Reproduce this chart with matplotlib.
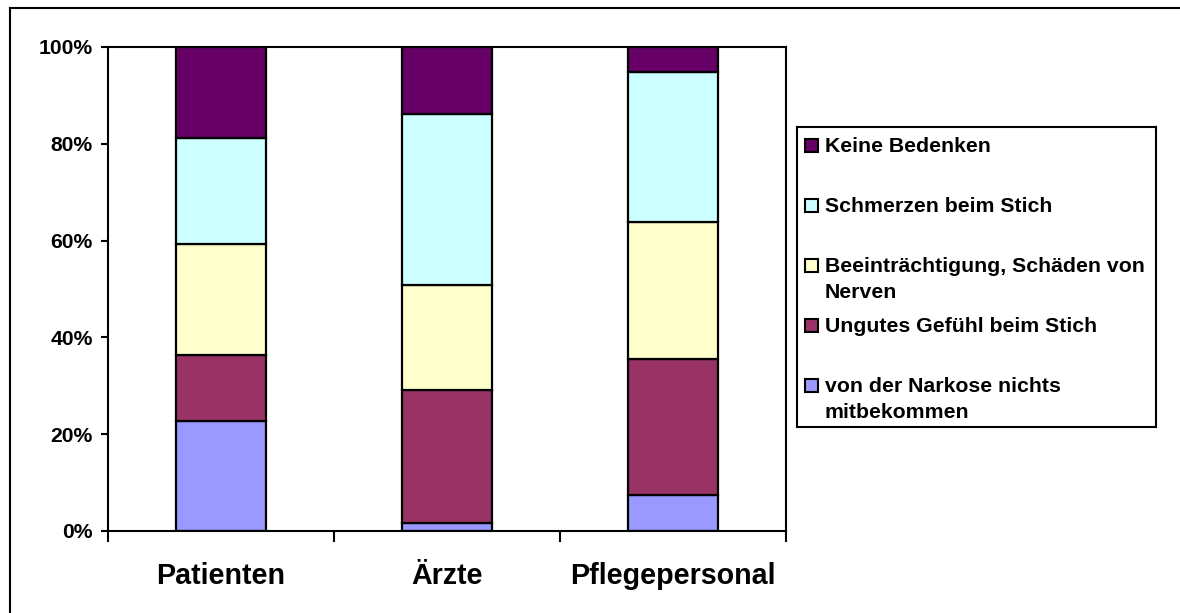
import matplotlib
matplotlib.use("Agg")
import matplotlib.pyplot as plt
import numpy as np
from matplotlib.lines import Line2D
from matplotlib.patches import Rectangle
from matplotlib.ticker import PercentFormatter

plt.rcParams["font.family"] = ["Liberation Sans", "DejaVu Sans"]
plt.rcParams["font.weight"] = "bold"

# data (share of answers per group, %), stacked bottom -> top
groups = ["Patienten", "Ärzte", "Pflegepersonal"]
series = [
    "von der Narkose nichts\nmitbekommen",
    "Ungutes Gefühl beim Stich",
    "Beeinträchtigung, Schäden von\nNerven",
    "Schmerzen beim Stich",
    "Keine Bedenken",
]
narkose = [22.7, 1.6, 7.4]
ungutes = [13.6, 27.6, 28.2]
schaeden = [23.1, 21.6, 28.3]
schmerzen = [21.8, 35.4, 30.9]
keine = [18.8, 13.8, 5.2]
colors = ["#9999FF", "#993366", "#FFFFCC", "#CCFFFF", "#660066"]

W, H = 1180, 613
fig = plt.figure(figsize=(W / 100, H / 100), dpi=100)
ax = fig.add_axes([108 / W, (H - 531) / H, (786 - 108) / W, (531 - 47) / H])

values = np.array([narkose, ungutes, schaeden, schmerzen, keine], dtype=float)
values = values / values.sum(axis=0) * 100
x = np.arange(len(groups))
bottom = np.zeros(len(groups))
for vals, color in zip(values, colors):
    ax.bar(x, vals, bottom=bottom, width=0.4, color=color,
           edgecolor="black", linewidth=1.6, zorder=2)
    bottom += vals

ax.set_xlim(-0.5, 2.5)
ax.set_ylim(0, 100)
ax.set_yticks(range(0, 101, 20))
ax.yaxis.set_major_formatter(PercentFormatter(decimals=0))
ax.tick_params(axis="y", direction="out", length=5, width=1.5,
               labelsize=15.2, pad=6)
ax.set_xticks(x)
ax.set_xticklabels(groups, fontsize=20.6, fontweight="bold")
ax.tick_params(axis="x", which="major", length=0, pad=22)
ax.set_xticks(np.arange(-0.5, 3, 1), minor=True)
ax.tick_params(axis="x", which="minor", direction="out", length=8, width=1.5)
for s in ax.spines.values():
    s.set_linewidth(1.5)

# legend box, drawn by hand so the text sits top-aligned like the original
lax = fig.add_axes([797 / W, 1 - 427 / H, (1156 - 797) / W, (427 - 127) / H])
lax.set_xlim(0, 359)
lax.set_ylim(300, 0)
lax.set_xticks([])
lax.set_yticks([])
for s in lax.spines.values():
    s.set_linewidth(1.5)
for i, (label, color) in enumerate(zip(series[::-1], colors[::-1])):
    base = 25 + 60 * i
    lax.add_patch(Rectangle((8, base - 13), 13, 13, facecolor=color,
                            edgecolor="black", linewidth=1.5))
    for j, line in enumerate(label.split("\n")):
        lax.text(28, base + 26 * j, line, fontsize=15.3, fontweight="bold",
                 va="baseline", ha="left")

# outer chart border (only top and left visible)
fig.add_artist(Line2D([10 / W, 10 / W], [0, 1 - 8 / H], color="black", lw=1.5))
fig.add_artist(Line2D([10 / W, 1], [1 - 8 / H, 1 - 8 / H], color="black", lw=1.5))

fig.savefig("out.png", dpi=100)
